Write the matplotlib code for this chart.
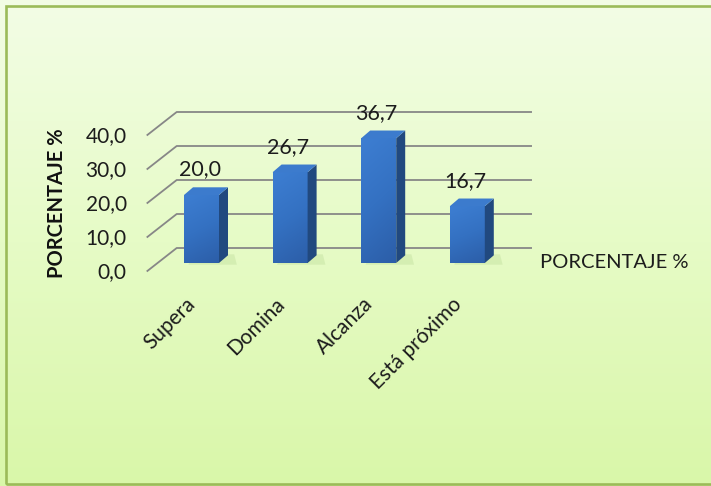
import matplotlib
matplotlib.use('Agg')
import matplotlib.pyplot as plt
import numpy as np
from matplotlib.patches import Polygon, Rectangle
from matplotlib.colors import LinearSegmentedColormap

# datos
categorias = ['Supera', 'Domina', 'Alcanza', 'Está próximo']
porcentajes = [20.0, 26.7, 36.7, 16.7]
etiquetas_datos = ['20,0', '26,7', '36,7', '16,7']
ticks_y = [0, 10, 20, 30, 40]
etiquetas_y = ['0,0', '10,0', '20,0', '30,0', '40,0']
titulo_eje = 'PORCENTAJE %'
nombre_serie = 'PORCENTAJE %'

W, H = 711, 486
plt.rcParams['font.family'] = ['Lato', 'DejaVu Sans']
texto = '#1c1c1c'

fig = plt.figure(figsize=(W / 100, H / 100), dpi=100)

# fondo degradado con borde verde
bg = fig.add_axes([0, 0, 1, 1], zorder=-10)
grad = np.linspace(0, 1, 256).reshape(-1, 1)
cmap_bg = LinearSegmentedColormap.from_list('bg', ['#f3fde6', '#e6fbc6', '#d9f7a9'])
bg.imshow(grad, cmap=cmap_bg, aspect='auto', extent=[0, 1, 0, 1])
bg.set_xlim(0, 1)
bg.set_ylim(0, 1)
bg.axis('off')
bg.add_patch(Rectangle((6 / W, 2 / H), 1.2, 478 / H, fill=False, ec='#9bbb59', lw=1.9))

# ejes principales (plano frontal de las barras)
ppx = 88.6   # px por categoría
ppy = 3.4    # px por unidad
x_izq = 201.5 - 0.5 * ppx
ax = fig.add_axes([x_izq / W, (H - 263) / H, 4 * ppx / W, 40 * ppy / H])
ax.set_xlim(-0.5, 3.5)
ax.set_ylim(0, 40)
ax.set_autoscale_on(False)
ax.axis('off')

# profundidades en unidades de datos
dxb, dyb = 9 / ppx, 7.7 / ppy
pared_dy = 15 / ppy
fx, fy = -30 / ppx, -23.5 / ppy
gx0, gx1 = -0.28, 3.73

for v, lab in zip(ticks_y, etiquetas_y):
    yb = v + pared_dy
    ax.plot([gx0 + fx, gx0, gx1], [yb + fy, yb, yb], color='#878787', lw=1.3,
            clip_on=False, zorder=1, solid_capstyle='butt')
    ax.text(gx0 + fx - 20 / ppx, yb + fy - 1 / ppy, lab, ha='right', va='center',
            fontsize=15, color=texto)

w = 35 / ppx
cmap_bar = LinearSegmentedColormap.from_list('bar', ['#2c5ea8', '#3471c2', '#3d7ed2'])
gbar = np.linspace(0, 1, 128).reshape(-1, 1) * 0.8 + np.linspace(0.2, 0, 32).reshape(1, -1)
for i, (v, lab, cat) in enumerate(zip(porcentajes, etiquetas_datos, categorias)):
    # sombra
    sombra = Polygon([(i - w / 2 + 0.05, -0.5), (i + w / 2 + dxb + 0.1, -0.5),
                      (i + w / 2 + dxb + 0.07, dyb + 0.3), (i - w / 2 + 0.1, dyb + 0.3)],
                     closed=True, fc='#9fc47a', ec='none', alpha=0.22, zorder=2, clip_on=False)
    ax.add_patch(sombra)
    frente = Rectangle((i - w / 2, 0), w, v, fc='#3270c0', ec='none', zorder=3)
    ax.add_patch(frente)
    im = ax.imshow(gbar, cmap=cmap_bar, aspect='auto', origin='lower',
                   extent=(i - w / 2, i + w / 2, 0, v), zorder=3.1)
    im.set_clip_path(frente)
    lado = Polygon([(i + w / 2, 0), (i + w / 2 + dxb, dyb), (i + w / 2 + dxb, v + dyb), (i + w / 2, v)],
                   closed=True, fc='#21497f', ec='none', zorder=4)
    ax.add_patch(lado)
    tapa = Polygon([(i - w / 2, v), (i + w / 2, v), (i + w / 2 + dxb, v + dyb), (i - w / 2 + dxb, v + dyb)],
                   closed=True, fc='#3c7bcd', ec='none', zorder=4)
    ax.add_patch(tapa)
    ax.text(i - 2 / ppx, v + 25.5 / ppy, lab, ha='center', va='center', fontsize=15.5,
            color=texto, zorder=5)
    ax.text(i - 16 / ppx, -31 / ppy, cat, rotation=45, ha='right', va='top',
            rotation_mode='anchor', fontsize=15, color=texto)

fig.text(57 / W, 1 - 203 / H, titulo_eje, rotation=90, fontweight='bold', ha='center',
         va='center', fontsize=14.5, color='#111111')
fig.text(540 / W, 1 - 262 / H, nombre_serie, ha='left', va='center', fontsize=14.5, color=texto)

fig.savefig('out.png', dpi=100)
